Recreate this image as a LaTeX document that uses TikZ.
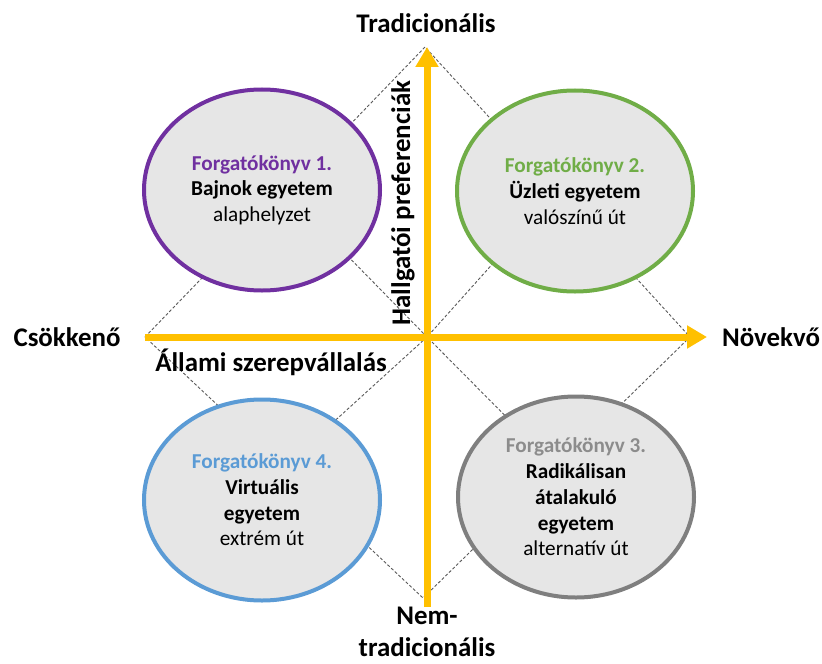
\documentclass[tikz,border=0pt]{standalone}
\usepackage{fontspec}
\setmainfont{Carlito}
\usetikzlibrary{arrows.meta,shapes.geometric}
\definecolor{axisyellow}{HTML}{FFC000}
\definecolor{ellfill}{HTML}{E6E6E6}
\definecolor{guidegray}{HTML}{595959}
\definecolor{scpurple}{HTML}{7030A0}
\definecolor{scgreen}{HTML}{70AD47}
\definecolor{scblue}{HTML}{5B9BD5}
\definecolor{scgray}{HTML}{7F7F7F}
\definecolor{scgraytext}{HTML}{8C8C8C}
\begin{document}
\begin{tikzpicture}[x=1bp,y=-1bp,
  scen/.style={ellipse, draw, line width=4bp, fill=ellfill, minimum width=236bp,
    minimum height=201bp, inner sep=0pt, align=center,
    font=\fontsize{21.3}{25.8}\selectfont},
  guide/.style={draw=guidegray, line width=0.9bp, dash pattern=on 3bp off 2bp},
  axis/.style={draw=axisyellow, line width=7bp, -{Triangle[length=20bp,width=22bp]}},
  axislabel/.style={font=\fontsize{27}{32}\selectfont\bfseries, inner sep=0pt, align=center}]
\useasboundingbox (0,0) rectangle (822,664);

% dashed diamond and its two cross lines
\coordinate (L) at (145,337);
\coordinate (T) at (425,47);
\coordinate (R) at (690,337);
\coordinate (B) at (423,598);
\coordinate (C) at (427,337);
\coordinate (mTL) at (285,192);
\coordinate (mTR) at (557,192);
\coordinate (mBR) at (556,467);
\coordinate (mBL) at (284,467);
\draw[guide] (L) -- (T) -- (R) -- (B) -- cycle;
\draw[guide] (mTL) -- (C) -- (mBR);
\draw[guide] (mTR) -- (C) -- (mBL);

% scenario ellipses
\node[scen, draw=scpurple] (s1) at (262,190)
  {\textcolor{scpurple}{\bfseries Forgatókönyv 1.}\\ \textbf{Bajnok egyetem}\\ alaphelyzet};
\node[scen, draw=scgreen] (s2) at (575,191)
  {\textcolor{scgreen}{\bfseries Forgatókönyv 2.}\\ \textbf{Üzleti egyetem}\\ valószínű út};
\node[scen, draw=scblue] (s4) at (262,500)
  {\textcolor{scblue}{\bfseries Forgatókönyv 4.}\\ \textbf{Virtuális}\\ \textbf{egyetem}\\ extrém út};
\node[scen, draw=scgray] (s3) at (576,497)
  {\textcolor{scgraytext}{\bfseries Forgatókönyv 3.}\\ \textbf{Radikálisan}\\ \textbf{átalakuló}\\ \textbf{egyetem}\\ alternatív út};

% axes
\coordinate (xs) at (145,337);
\coordinate (xe) at (707,337);
\coordinate (ys) at (427,607);
\coordinate (ye) at (427,47);
\draw[axis] (xs) -- (xe);
\draw[axis] (ys) -- (ye);

% axis labels
\node[axislabel] (top) at (426,23) {Tradicionális};
\node[axislabel, anchor=south] (bot) at (427,657) {Nem-\\tradicionális};
\node[axislabel] (left) at (67,337) {Csökkenő};
\node[axislabel] (right) at (771,337) {Növekvő};
\node[axislabel] (hax) at (271,362) {Állami szerepvállalás};
\node[axislabel, rotate=90] (vax) at (403,203) {Hallgatói preferenciák};
\end{tikzpicture}
\end{document}
